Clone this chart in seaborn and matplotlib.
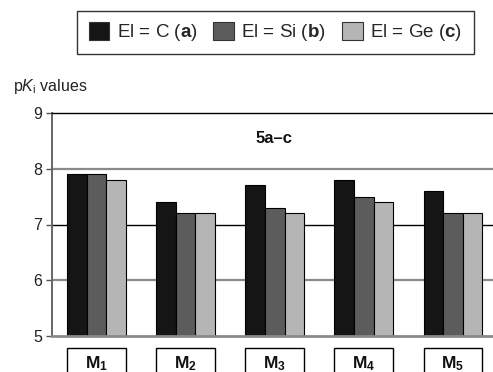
import matplotlib
matplotlib.use("Agg")
import matplotlib.pyplot as plt
import seaborn as sns
import pandas as pd
from matplotlib.patches import Patch, Rectangle
import matplotlib.transforms as mtransforms

sns.set_theme(style="white")
plt.rcParams['font.family'] = ['Liberation Sans', 'DejaVu Sans']
plt.rcParams['mathtext.fontset'] = 'custom'
plt.rcParams['mathtext.rm'] = 'Liberation Sans'
plt.rcParams['mathtext.it'] = 'Liberation Sans:italic'
plt.rcParams['mathtext.bf'] = 'Liberation Sans:bold'

categories = ["M1", "M2", "M3", "M4", "M5"]
cat_labels = [r"$\mathbf{M_1}$", r"$\mathbf{M_2}$", r"$\mathbf{M_3}$", r"$\mathbf{M_4}$", r"$\mathbf{M_5}$"]
series_names = ["El = C", "El = Si", "El = Ge"]
series_legend = [r"El = C ($\mathbf{a}$)", r"El = Si ($\mathbf{b}$)", r"El = Ge ($\mathbf{c}$)"]
vals_C = [7.9, 7.4, 7.7, 7.8, 7.6]
vals_Si = [7.9, 7.2, 7.3, 7.5, 7.2]
vals_Ge = [7.8, 7.2, 7.2, 7.4, 7.2]
colors = ["#151515", "#5c5c5c", "#b5b5b5"]
yticks = [5, 6, 7, 8, 9]

rows = []
for name, vals in zip(series_names, [vals_C, vals_Si, vals_Ge]):
    for c, v in zip(categories, vals):
        rows.append({"cat": c, "series": name, "value": v})
df = pd.DataFrame(rows)

fig = plt.figure(figsize=(4.93, 3.72), dpi=100)
ax = fig.add_axes([52/493, 1 - 336/372, 441/493, 223/372])

# grid lines
ax.axhline(6, color="#8a8a8a", lw=1.6, zorder=0)
ax.axhline(8, color="#8a8a8a", lw=1.6, zorder=0)
ax.axhline(7, color="black", lw=1.0, zorder=0)

sns.barplot(data=df, x="cat", y="value", hue="series", palette=colors,
            width=0.66, gap=0, edgecolor="black", linewidth=0.8,
            ax=ax, legend=False, zorder=2)
for p in ax.patches:
    p.set_zorder(2)

ax.set_ylim(5, 9)
ax.set_xlim(-0.5, 4.45)
ax.set_yticks(yticks)
ax.set_yticklabels([str(t) for t in yticks], fontsize=11.5)
ax.set_xticks([])
ax.set_xlabel("")
ax.set_ylabel("")
ax.tick_params(axis="y", left=True, length=4, width=1, color="#555555", pad=3, labelcolor="#222222")

ax.spines["right"].set_visible(False)
ax.spines["top"].set_color("black")
ax.spines["top"].set_linewidth(1.0)
ax.spines["left"].set_color("#666666")
ax.spines["left"].set_linewidth(1.4)
ax.spines["bottom"].set_color("#8a8a8a")
ax.spines["bottom"].set_linewidth(2.0)

# boxed category labels
trans = mtransforms.blended_transform_factory(ax.transData, ax.transAxes)
for i, lab in enumerate(cat_labels):
    r = Rectangle((i - 0.33, -0.20), 0.66, 0.146, transform=trans,
                  facecolor="white", edgecolor="black", lw=1.0, clip_on=False)
    ax.add_patch(r)
    ax.text(i, -0.125, lab, transform=trans, ha="center", va="center",
            fontsize=12.5, color="#111111")

ax.text(0.503, 0.886, "5a–c", transform=ax.transAxes, ha="center", va="center",
        fontsize=12, fontweight="bold", color="#111111")

fig.text(13/493, 1 - 87/372, r"p$K_{\mathrm{i}}$ values", ha="left", va="center",
         fontsize=11.5, color="#222222")

handles = [Patch(facecolor=c, edgecolor="#333333", lw=0.8) for c in colors]
leg = fig.legend(handles, series_legend, loc="center", bbox_to_anchor=(275.5/493, 1 - 32.5/372),
                 ncol=3, frameon=True, fontsize=13.5, handlelength=1.1, handleheight=1.1,
                 handletextpad=0.4, columnspacing=0.85, borderpad=0.6, fancybox=False)
leg.get_frame().set_edgecolor("black")
leg.get_frame().set_linewidth(1.0)

fig.savefig("out.png", dpi=100)
